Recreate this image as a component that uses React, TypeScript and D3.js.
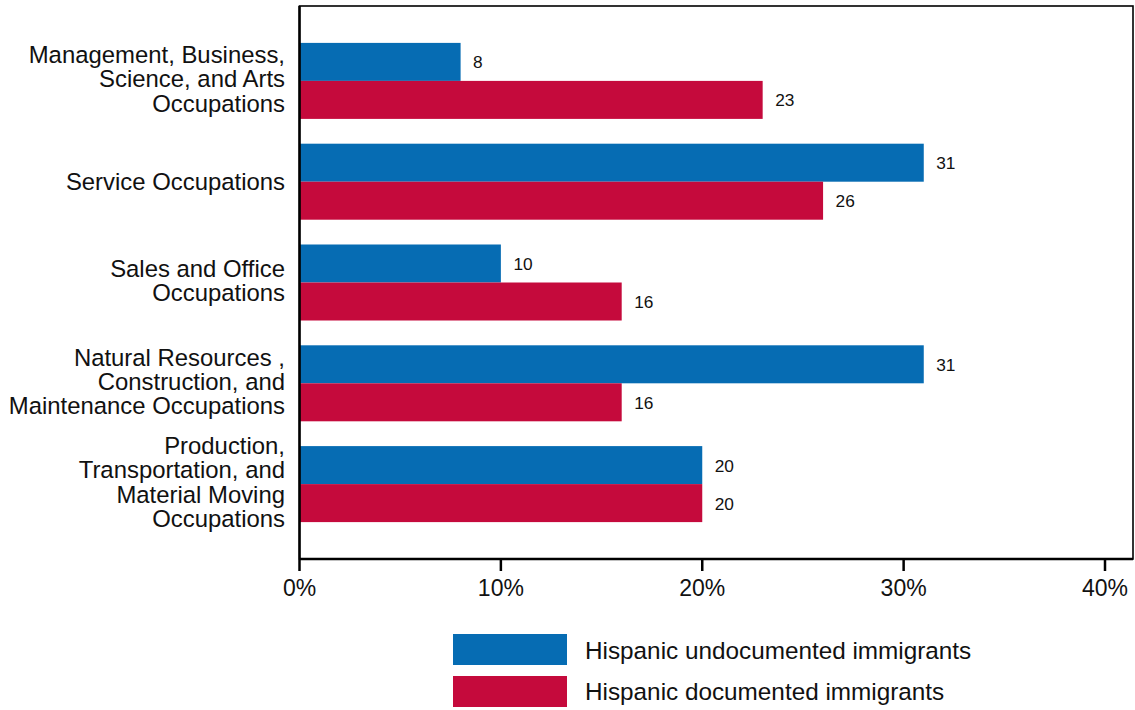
import React from "react";
import * as d3 from "d3";

const categories: string[][] = [
  ["Management, Business,", "Science, and Arts", "Occupations"],
  ["Service Occupations"],
  ["Sales and Office", "Occupations"],
  ["Natural Resources ,", "Construction, and", "Maintenance Occupations"],
  ["Production,", "Transportation, and", "Material Moving", "Occupations"],
];
const undocumented: number[] = [8, 31, 10, 31, 20];
const documented: number[] = [23, 26, 16, 16, 20];
const xTicks: number[] = [0, 10, 20, 30, 40];
const seriesNames: string[] = ["Hispanic undocumented immigrants", "Hispanic documented immigrants"];
const colors: string[] = ["#066cb3", "#c50a3c"];

const W = 1135;
const H = 710;
const left = 299.5;
const right = 1133;
const top = 6;
const bottom = 559;
const FONT = "Arial, 'Liberation Sans', Helvetica, sans-serif";

export default function App() {
  const x = d3.scaleLinear().domain([0, 40]).range([left, 1105]);
  const idx = categories.map((_, i) => String(i));
  const y = d3.scaleBand<string>().domain(idx).range([top, bottom]).paddingInner(0.246).paddingOuter(0.366);
  const bw = y.bandwidth();
  const half = bw / 2;
  const series = [undocumented, documented];

  return (
    <svg width={W} height={H} style={{ position: "absolute", left: 0, top: 0, background: "#fff" }} fontFamily={FONT}>
      {/* bars */}
      {series.map((vals, s) =>
        vals.map((v, i) => {
          const y0 = (y(String(i)) as number) + s * half;
          return (
            <g key={`b${s}-${i}`}>
              <rect x={x(0)} y={y0} width={x(v) - x(0)} height={half} fill={colors[s]} />
              <text x={x(v) + 12.5} y={y0 + half / 2 + 0.5} dominantBaseline="central" fontSize={17.3} fill="#111">
                {v}
              </text>
            </g>
          );
        })
      )}
      {/* frame */}
      <rect x={left} y={top} width={right - left} height={bottom - top} fill="none" stroke="#000" strokeWidth={1.6} />
      <line x1={left} x2={left} y1={top} y2={bottom} stroke="#000" strokeWidth={2.5} />
      <line x1={left} x2={right} y1={bottom} y2={bottom} stroke="#000" strokeWidth={2.5} />
      {/* ticks */}
      {xTicks.map((t) => (
        <g key={`t${t}`}>
          <line x1={x(t)} x2={x(t)} y1={bottom} y2={bottom + 12} stroke="#000" strokeWidth={2.5} />
          <text x={x(t)} y={588} textAnchor="middle" dominantBaseline="central" fontSize={23} fill="#111">
            {`${t}%`}
          </text>
        </g>
      ))}
      {/* category labels */}
      {categories.map((lines, i) => {
        const c = (y(String(i)) as number) + bw / 2 + (lines.length === 1 ? 0 : -2);
        return (
          <text key={`c${i}`} textAnchor="end" fontSize={23.9} fill="#111">
            {lines.map((ln, j) => (
              <tspan key={j} x={285} y={c + (j - (lines.length - 1) / 2) * 24.3} dominantBaseline="central">
                {ln}
              </tspan>
            ))}
          </text>
        );
      })}
      {/* legend */}
      {seriesNames.map((n, s) => (
        <g key={`l${s}`}>
          <rect x={453} y={634 + s * 42} width={114} height={31} fill={colors[s]} />
          <text x={585} y={650 + s * 41.5} dominantBaseline="central" fontSize={24.3} fill="#111">
            {n}
          </text>
        </g>
      ))}
    </svg>
  );
}
